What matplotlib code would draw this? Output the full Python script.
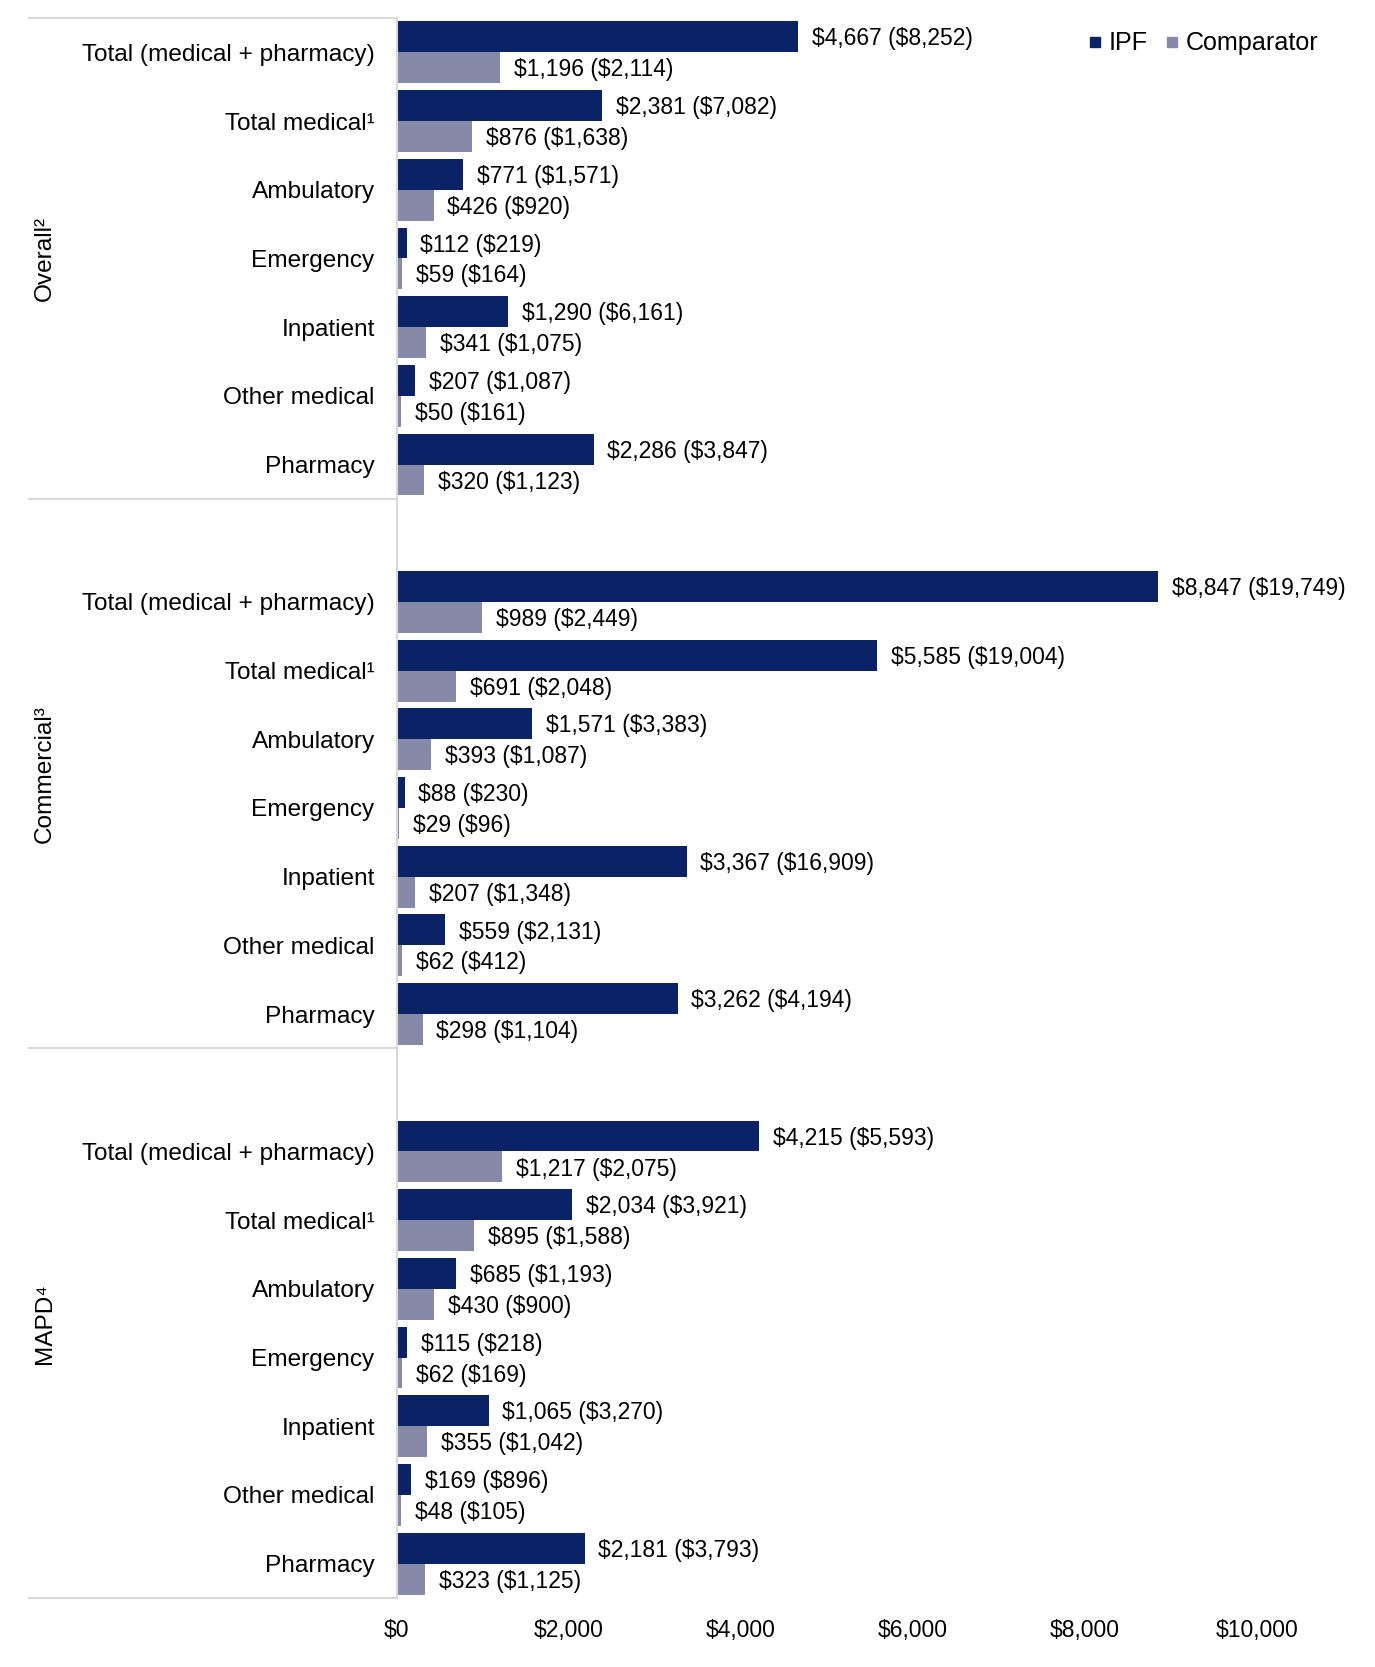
import matplotlib.pyplot as plt
from matplotlib.lines import Line2D
import matplotlib.transforms as mtransforms

plt.rcParams['font.family'] = ['Liberation Sans', 'DejaVu Sans']
plt.rcParams['text.parse_math'] = False

groups = ["Overall²", "Commercial³", "MAPD⁴"]
categories = ["Total (medical + pharmacy)", "Total medical¹", "Ambulatory", "Emergency",
              "Inpatient", "Other medical", "Pharmacy"]

# mean cost (SD) per group, in category order
ipf_mean = [[4667, 2381, 771, 112, 1290, 207, 2286],
            [8847, 5585, 1571, 88, 3367, 559, 3262],
            [4215, 2034, 685, 115, 1065, 169, 2181]]
ipf_sd = [[8252, 7082, 1571, 219, 6161, 1087, 3847],
          [19749, 19004, 3383, 230, 16909, 2131, 4194],
          [5593, 3921, 1193, 218, 3270, 896, 3793]]
comp_mean = [[1196, 876, 426, 59, 341, 50, 320],
             [989, 691, 393, 29, 207, 62, 298],
             [1217, 895, 430, 62, 355, 48, 323]]
comp_sd = [[2114, 1638, 920, 164, 1075, 161, 1123],
           [2449, 2048, 1087, 96, 1348, 412, 1104],
           [2075, 1588, 900, 169, 1042, 105, 1125]]

ipf_color = "#0a2266"
comp_color = "#8789a8"

fig = plt.figure(figsize=(13.75, 16.67), dpi=100)
ax = fig.add_axes([0.2887, 0.0414, 0.9142 - 0.2887, 0.9892 - 0.0414])

bh = 0.45
fs = 17.6
vfs = 16.5
pos = 0
tick_pos, tick_lab = [], []
group_bounds = []
for g in range(len(groups)):
    if g > 0:
        pos += 1  # blank slot between groups
    start = pos - 0.5 - (1 if g > 0 else 0)
    for i, cat in enumerate(categories):
        ax.barh(pos - bh / 2, ipf_mean[g][i], height=bh, color=ipf_color)
        ax.barh(pos + bh / 2, comp_mean[g][i], height=bh, color=comp_color)
        ax.annotate(f"${ipf_mean[g][i]:,} (${ipf_sd[g][i]:,})", (ipf_mean[g][i], pos - bh / 2),
                    xytext=(10, -1.5), textcoords="offset points", va="center", ha="left",
                    fontsize=vfs, annotation_clip=False)
        ax.annotate(f"${comp_mean[g][i]:,} (${comp_sd[g][i]:,})", (comp_mean[g][i], pos + bh / 2),
                    xytext=(10, -1.5), textcoords="offset points", va="center", ha="left",
                    fontsize=vfs, annotation_clip=False)
        tick_pos.append(pos)
        tick_lab.append(cat)
        pos += 1
    group_bounds.append((start, pos - 0.5))

ax.set_ylim(pos - 0.5, -0.5)
ax.set_xlim(0, 10000)
ax.set_yticks(tick_pos)
ax.set_yticklabels(tick_lab, fontsize=fs)
ax.set_xticks(range(0, 10001, 2000))
ax.set_xticklabels([f"${v:,}" for v in range(0, 10001, 2000)], fontsize=vfs)
ax.tick_params(axis="y", length=0, pad=16)
ax.tick_params(axis="x", length=0, pad=15)
for s in ["top", "right", "bottom"]:
    ax.spines[s].set_visible(False)
ax.spines["left"].set_color("#d9d9d9")
ax.spines["left"].set_linewidth(1.5)

trans = mtransforms.blended_transform_factory(ax.transAxes, ax.transData)
lines_y = sorted(set([b[0] for b in group_bounds] + [b[1] for b in group_bounds]))
for y in lines_y:
    ax.plot([-0.428, 0], [y, y], transform=trans, color="#d9d9d9", lw=1.5,
            clip_on=False)
for g, (a, b) in enumerate(group_bounds):
    ax.text(-0.409, (a + b) / 2, groups[g], transform=trans, rotation=90,
            ha="center", va="center", fontsize=fs)

handles = [Line2D([], [], marker="s", color=ipf_color, ls="", markersize=7),
           Line2D([], [], marker="s", color=comp_color, ls="", markersize=7)]
fig.legend(handles, ["IPF", "Comparator"], loc="center right",
           bbox_to_anchor=(0.975, 0.974), ncol=2, frameon=False, fontsize=fs + 0.5,
           handlelength=0.5, handletextpad=0.3, columnspacing=0.7)

fig.savefig("out.png", dpi=100)
